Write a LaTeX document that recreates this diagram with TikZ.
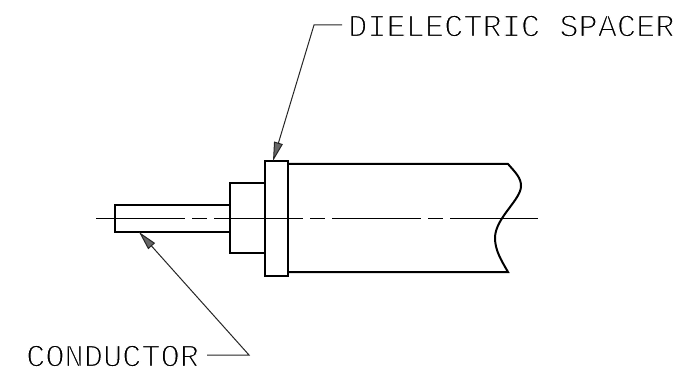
\documentclass[tikz,border=0pt]{standalone}
\usepackage{fontspec}
\usetikzlibrary{arrows.meta}
\newfontfamily\cadfont{Liberation Mono}
\newcommand{\thinstroke}[1]{\special{pdf:code q 2 Tr 1.1 w 1 1 1 RG}#1\special{pdf:code 0 Tr Q}}
\tikzset{
  x=1pt,y=-1pt,
  part/.style={draw=black,line width=2pt,line join=miter},
  centre/.style={draw=black,line width=1pt,dash pattern=on 89pt off 7pt on 15pt off 7pt},
  leader/.style={draw=black!85,line width=1pt},
  pointer/.style={leader,-{Triangle[length=19pt,width=9pt,fill=black!60]}},
  cadlabel/.style={font=\cadfont\fontsize{32}{32}\selectfont,text=black,inner sep=0pt,anchor=west}
}
\begin{document}
\begin{tikzpicture}
\useasboundingbox (0,0) rectangle (687,382);
\fill[white] (0,0) rectangle (687,382);
% parts
\draw[part] (230,205) -- (115,205) -- (115,232) -- (230,232);
\draw[part] (265,183) -- (230,183) -- (230,253) -- (265,253);
\draw[part] (265,161) rectangle (288,276);
\draw[part] (288,164) -- (508,164)
  .. controls (516,173) and (521,178) .. (521,186)
  .. controls (521,200) and (495,218) .. (495,238)
  .. controls (495,250) and (501,260) .. (508,272)
  -- (288,272);
\draw[centre] (96,218) -- (538,218);
% labels
\node[cadlabel] (dlabel) at (348,26) {\thinstroke{DIELECTRIC SPACER}};
\node[cadlabel] (clabel) at (26,356) {\thinstroke{CONDUCTOR}};
\coordinate (dfrom) at (342,25);
\coordinate (delbow) at (314,25);
\coordinate (dtip) at (273,161);
\coordinate (cfrom) at (207,355);
\coordinate (celbow) at (249,355);
\coordinate (ctip) at (139,232);
\draw[pointer] (dfrom) -- (delbow) -- (dtip);
\draw[pointer] (cfrom) -- (celbow) -- (ctip);
\end{tikzpicture}
\end{document}
